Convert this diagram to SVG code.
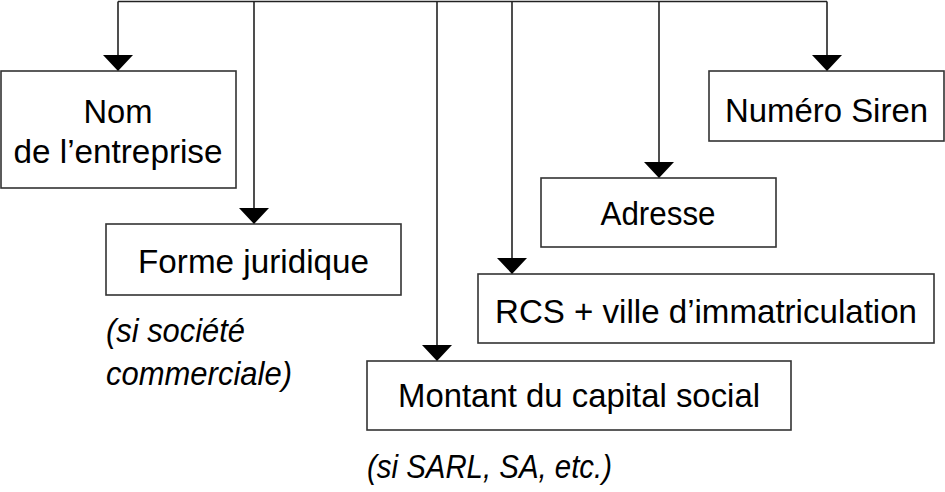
<svg xmlns="http://www.w3.org/2000/svg" width="945" height="492" viewBox="0 0 945 492">
<style>
.box{fill:#fff;stroke:#333;stroke-width:1.6}
.t{font-family:"Liberation Sans",Arial,sans-serif;font-size:33.5px;fill:#000;text-anchor:middle}
.n{font-family:"Liberation Sans",Arial,sans-serif;font-size:33.5px;font-style:italic;fill:#000}
.c{fill:none;stroke:#222;stroke-width:1.6}
</style>
<defs>
<marker id="ah" viewBox="0 0 16 30" refX="16" refY="15" markerWidth="16" markerHeight="30" markerUnits="userSpaceOnUse" orient="auto">
<path d="M0,0 L16,15 L0,30 Z" fill="#000"/>
</marker>
</defs>
<g id="connectors">
<path class="c" d="M118,1.5 H827"/>
<path class="c" d="M118,1.5 V71" marker-end="url(#ah)"/>
<path class="c" d="M254,1.5 V224" marker-end="url(#ah)"/>
<path class="c" d="M437,1.5 V361" marker-end="url(#ah)"/>
<path class="c" d="M512,1.5 V274" marker-end="url(#ah)"/>
<path class="c" d="M659,1.5 V178" marker-end="url(#ah)"/>
<path class="c" d="M827,1.5 V71" marker-end="url(#ah)"/>
</g>
<g id="nom">
<rect class="box" x="1" y="71" width="235" height="117"/>
<text class="t" x="118" y="123" textLength="69" lengthAdjust="spacingAndGlyphs">Nom</text>
<text class="t" x="118" y="163" textLength="209" lengthAdjust="spacingAndGlyphs">de l’entreprise</text>
</g>
<g id="forme">
<rect class="box" x="106" y="224" width="295" height="71"/>
<text class="t" x="253.5" y="273" textLength="231" lengthAdjust="spacingAndGlyphs">Forme juridique</text>
<text class="n" x="106" y="342" textLength="139" lengthAdjust="spacingAndGlyphs">(si société</text>
<text class="n" x="106" y="385" textLength="186" lengthAdjust="spacingAndGlyphs">commerciale)</text>
</g>
<g id="montant">
<rect class="box" x="367" y="361" width="424" height="69"/>
<text class="t" x="579" y="407" textLength="362" lengthAdjust="spacingAndGlyphs">Montant du capital social</text>
<text class="n" x="367" y="478" textLength="245" lengthAdjust="spacingAndGlyphs">(si SARL, SA, etc.)</text>
</g>
<g id="rcs">
<rect class="box" x="478" y="274" width="456" height="69"/>
<text class="t" x="706" y="323" textLength="422" lengthAdjust="spacingAndGlyphs">RCS + ville d’immatriculation</text>
</g>
<g id="adresse">
<rect class="box" x="541" y="178" width="235" height="69"/>
<text class="t" x="658" y="225" textLength="115" lengthAdjust="spacingAndGlyphs">Adresse</text>
</g>
<g id="siren">
<rect class="box" x="709" y="71" width="235" height="70"/>
<text class="t" x="826.5" y="122" textLength="203" lengthAdjust="spacingAndGlyphs">Numéro Siren</text>
</g>
</svg>
